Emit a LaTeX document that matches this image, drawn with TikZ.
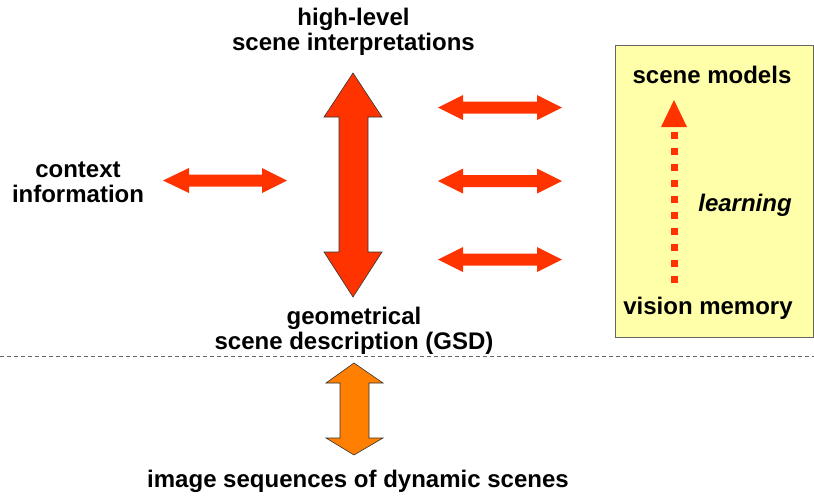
\documentclass[tikz,border=0pt]{standalone}
\usepackage{fontspec}
\setmainfont{Liberation Sans}
\begin{document}
\begin{tikzpicture}[x=1pt,y=-1pt,
  lbl/.style={font=\bfseries\fontsize{24}{25}\selectfont, align=center, inner sep=0pt, text=black},
  redarrow/.style={fill=arrowred, draw=none},
  bigarrow/.style={fill=arrowred, draw=black!80, line width=0.6pt, line join=miter},
  orangearrow/.style={fill=arroworange, draw=black!80, line width=0.6pt, line join=miter}]
\definecolor{arrowred}{HTML}{FF3300}
\definecolor{arroworange}{HTML}{FF8000}
\definecolor{boxyellow}{HTML}{FFFFAA}
\useasboundingbox (0,0) rectangle (814,499);
% box
\draw[fill=boxyellow, draw=black!60, line width=0.8pt] (615,45) rectangle (813,337);
% dashed separator
\draw[black!60, dash pattern=on 4pt off 3pt, line width=0.8pt] (0,356) -- (814,356);
% big vertical arrow
\draw[bigarrow] (353,73) -- (382,117) -- (368,117) -- (368,252) -- (382,252) -- (353,297)
  -- (324,252) -- (339,252) -- (339,117) -- (324,117) -- cycle;
% orange arrow
\draw[orangearrow] (354,363) -- (383,383) -- (369,383) -- (369,438) -- (383,438) -- (354,455)
  -- (326,438) -- (340,438) -- (340,383) -- (326,383) -- cycle;
% horizontal arrows
\foreach \cy in {107.5,181,259.5}{
  \fill[arrowred] (438,\cy) -- (463,\cy-12.5) -- (463,\cy-6) -- (537,\cy-6) -- (537,\cy-12.5)
    -- (562,\cy) -- (537,\cy+12.5) -- (537,\cy+6) -- (463,\cy+6) -- (463,\cy+12.5) -- cycle;
}
\fill[arrowred] (163,180.5) -- (189,168) -- (189,174.5) -- (262,174.5) -- (262,168)
  -- (287,180.5) -- (262,193) -- (262,186.5) -- (189,186.5) -- (189,193) -- cycle;
% learning arrow
\draw[arrowred, line width=7pt, dash pattern=on 7pt off 9pt] (674,132) -- (674,283);
\fill[arrowred] (674,100) -- (687,127) -- (661,127) -- cycle;
% labels
\node[lbl] (hl) at (353.5,32) {high-level\\scene interpretations};
\node[lbl] (ctx) at (78,182) {context\\information};
\node[lbl] (gsd) at (354,331) {geometrical\\scene description (GSD)};
\node[lbl] (img) at (358,481) {image sequences of dynamic scenes};
\node[lbl] (sm) at (712,75) {scene models};
\node[lbl, font=\bfseries\itshape\fontsize{24}{25}\selectfont] (learn) at (745,205) {learning};
\node[lbl] (vm) at (708,308) {vision memory};
\end{tikzpicture}
\end{document}
